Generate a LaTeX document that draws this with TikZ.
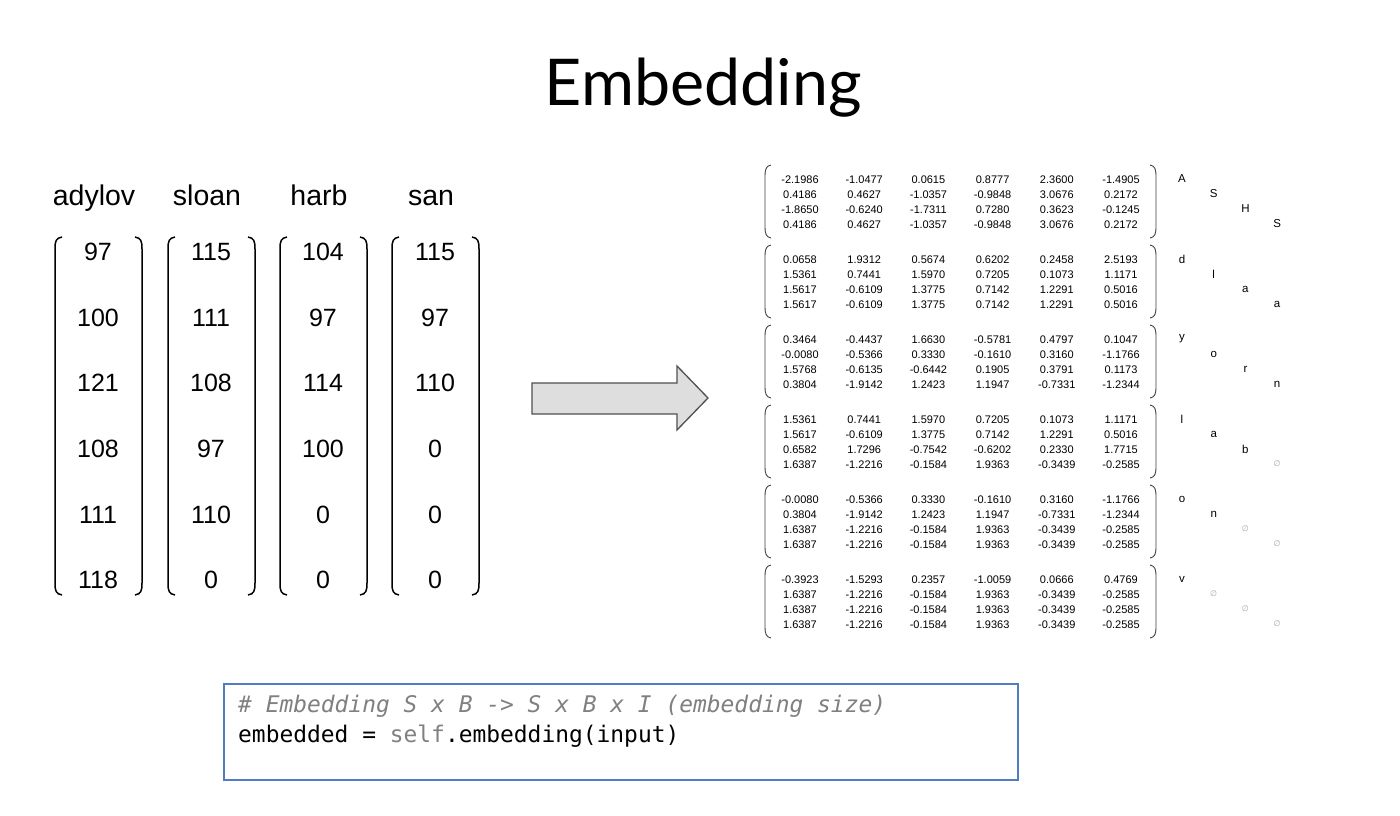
\documentclass[tikz,border=0pt]{standalone}
\usepackage{fontspec}
\setmainfont{Liberation Sans}
\newfontfamily\titlefont{Lato}
\newfontfamily\codefont{DejaVu Sans Mono}
\newfontfamily\symfont{DejaVu Sans}
\definecolor{boxblue}{RGB}{79,125,189}
\definecolor{codegray}{RGB}{128,128,128}
\definecolor{arrowfill}{RGB}{222,222,222}
\definecolor{arrowline}{RGB}{80,80,80}
\newcommand\padsym{{\symfont\color{gray!70}\fontsize{8}{8}\selectfont ∅}}
\tikzset{
  wordlabel/.style={font=\fontsize{28.5}{30}\selectfont, anchor=base, inner sep=0pt},
  bignum/.style={font=\fontsize{25}{26}\selectfont, inner sep=0pt},
  smallnum/.style={font=\fontsize{11}{12}\selectfont, inner sep=0pt},
  letter/.style={font=\fontsize{11.5}{12}\selectfont, inner sep=0pt},
  bigparen/.style={line width=1.5pt, black},
  smallparen/.style={line width=0.9pt, black!75},
  codeline/.style={font=\codefont\fontsize{22.9}{24}\selectfont, anchor=base west, inner sep=0pt},
}
% left / right round bracket between heights #2 (top) and #3 (bottom) at x = #1
\newcommand\lparen[5]{\draw[#5] (#1+#4,#2) .. controls (#1+1,#2+1) and (#1,#2+4) .. (#1,#2+12)
  -- (#1,#3-12) .. controls (#1,#3-4) and (#1+1,#3-1) .. (#1+#4,#3);}
\newcommand\rparen[5]{\draw[#5] (#1-#4,#2) .. controls (#1-1,#2+1) and (#1,#2+4) .. (#1,#2+12)
  -- (#1,#3-12) .. controls (#1,#3-4) and (#1-1,#3-1) .. (#1-#4,#3);}
\begin{document}
\begin{tikzpicture}[x=1pt,y=-1pt]
\useasboundingbox (0,0) rectangle (1400,816);
\fill[white] (0,0) rectangle (1400,816);

% title
\node[font=\titlefont\fontsize{64.5}{72}\selectfont, anchor=base, inner sep=0pt] (title) at (703,105) {Embedding};

% character-code columns, one per word
\foreach \cx/\word/\vals [count=\i] in {98/adylov/{97,100,121,108,111,118},
                                        211/sloan/{115,111,108,97,110,0},
                                        323/harb/{104,97,114,100,0,0},
                                        435/san/{115,97,110,0,0,0}} {
  \node[wordlabel] (word-\i) at (\cx-4,205) {\word};
  \foreach \v [count=\r from 0] in \vals {
    \node[bignum] (code-\i-\r) at (\cx,{252+65.6*\r}) {\v};
  }
  \lparen{\cx-43}{237}{595}{7}{bigparen}
  \rparen{\cx+44}{237}{595}{7}{bigparen}
}

% block arrow
\draw[fill=arrowfill, draw=arrowline, line width=1.3pt, line join=miter]
  (532,383) -- (677,383) -- (677,366) -- (708,398) -- (677,430) -- (677,414) -- (532,414) -- cycle;

% embedded tensor: 6 time steps x 4 batch rows x 6 features
\foreach \row [count=\i from 0] in {
  {-2.1986,-1.0477,0.0615,0.8777,2.3600,-1.4905},
  {0.4186,0.4627,-1.0357,-0.9848,3.0676,0.2172},
  {-1.8650,-0.6240,-1.7311,0.7280,0.3623,-0.1245},
  {0.4186,0.4627,-1.0357,-0.9848,3.0676,0.2172},
  {0.0658,1.9312,0.5674,0.6202,0.2458,2.5193},
  {1.5361,0.7441,1.5970,0.7205,0.1073,1.1171},
  {1.5617,-0.6109,1.3775,0.7142,1.2291,0.5016},
  {1.5617,-0.6109,1.3775,0.7142,1.2291,0.5016},
  {0.3464,-0.4437,1.6630,-0.5781,0.4797,0.1047},
  {-0.0080,-0.5366,0.3330,-0.1610,0.3160,-1.1766},
  {1.5768,-0.6135,-0.6442,0.1905,0.3791,0.1173},
  {0.3804,-1.9142,1.2423,1.1947,-0.7331,-1.2344},
  {1.5361,0.7441,1.5970,0.7205,0.1073,1.1171},
  {1.5617,-0.6109,1.3775,0.7142,1.2291,0.5016},
  {0.6582,1.7296,-0.7542,-0.6202,0.2330,1.7715},
  {1.6387,-1.2216,-0.1584,1.9363,-0.3439,-0.2585},
  {-0.0080,-0.5366,0.3330,-0.1610,0.3160,-1.1766},
  {0.3804,-1.9142,1.2423,1.1947,-0.7331,-1.2344},
  {1.6387,-1.2216,-0.1584,1.9363,-0.3439,-0.2585},
  {1.6387,-1.2216,-0.1584,1.9363,-0.3439,-0.2585},
  {-0.3923,-1.5293,0.2357,-1.0059,0.0666,0.4769},
  {1.6387,-1.2216,-0.1584,1.9363,-0.3439,-0.2585},
  {1.6387,-1.2216,-0.1584,1.9363,-0.3439,-0.2585},
  {1.6387,-1.2216,-0.1584,1.9363,-0.3439,-0.2585}} {
  \pgfmathtruncatemacro\blk{div(\i,4)}
  \pgfmathtruncatemacro\rr{mod(\i,4)}
  \foreach \v [count=\c from 0] in \row {
    \node[smallnum] (emb-\blk-\rr-\c) at ({800+64.2*\c},{165+80*\blk+15+15*\rr}) {\v};
  }
}
\foreach \k in {0,...,5} {
  \lparen{765}{165+80*\k}{238+80*\k}{6}{smallparen}
  \rparen{1156}{165+80*\k}{238+80*\k}{6}{smallparen}
}

% characters fed at each time step
\foreach \letters [count=\k from 0] in {{A,S,H,S},{d,l,a,a},{y,o,r,n},{l,a,b,\padsym},{o,n,\padsym,\padsym},{v,\padsym,\padsym,\padsym}} {
  \foreach \ch [count=\j from 0] in \letters {
    \node[letter] (chr-\k-\j) at ({1182+31.7*\j},{165+80*\k+14+15*\j}) {\ch};
  }
}

% code snippet
\node[draw=boxblue, line width=1.6pt, minimum width=794pt, minimum height=96pt, inner sep=0pt, anchor=north west] (codebox) at (223,683) {};
\node[codeline, text=codegray] (comment) at ([xshift=15pt,yshift=-29pt]codebox.north west)
  {\itshape \# Embedding S x B -> S x B x I (embedding size)};
\node[codeline] (call) at ([xshift=15pt,yshift=-59pt]codebox.north west)
  {embedded = {\color{codegray}self}.embedding(input)};
\end{tikzpicture}
\end{document}
